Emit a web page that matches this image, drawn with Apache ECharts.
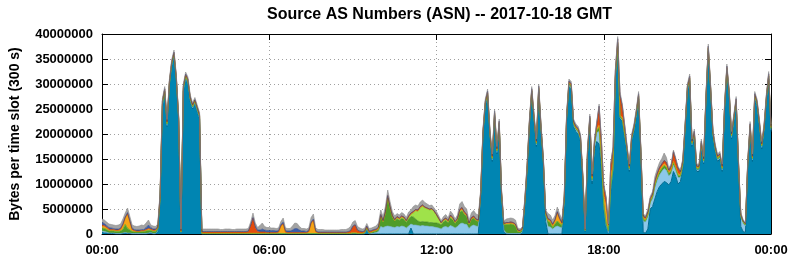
<!DOCTYPE html>
<html><head><meta charset="utf-8">
<script src="https://cdn.jsdelivr.net/npm/echarts@6/dist/echarts.min.js"></script>
<style>html,body{margin:0;padding:0;background:#fff}#c{width:792px;height:259px}</style>
</head><body><div id="c"></div>
<script>
// ---- chart texts ----
const titleText = 'Source AS Numbers (ASN) -- 2017-10-18 GMT';
const yAxisName = 'Bytes per time slot (300 s)';
const slotSeconds = 300;          // one data point per 5-minute slot, 289 slots
const seriesNames = ['ASN A', 'ASN B', 'ASN C', 'ASN D', 'ASN E', 'ASN F', 'ASN G', 'Other'];

// ---- values in millions of bytes per slot, one row per hour (12 slots) ----
const teal = [
0.3,0.2,0.2,0.1,0.1,0.1,0,0,0,0.1,0.2,0.1,
0.1,0,0,0,0,0,0,0,0.1,0.2,0,0,
0.5,6.5,25.5,28,21.5,29.5,33.5,35.5,30.5,22.5,0.2,28.5,
31,30,26.5,25,26,24.5,23,0,0,0,0,0,
0,0,0,0,0,0,0,0,0,0,0,0,
0,0,0,0,0,0,0,0,0,0,0,0,
0,0,0,0,0,0,0,0,0,0,0,0,
0,0,0,0,0,0,0,0,0,0,0,0,
0,0,0,0,0,0,0,0,0,0,0,0,
0,0,0,0,0,0,1,0,0,0,0,0,
0,0,0,0,0,0,0,0,0,0,0,0,
0,1.2,0,0,0,0,0,0,0,0,0,0,
0,0,0,0,0,0,0,0,0,0,0,0,
0,0,0,0,0,0,0,7,19.5,25.5,27.5,19.5,
14.5,23.5,16,21.5,7.5,0.5,0,0,0,0,0,0,
0,0.3,5.5,12.5,21.5,28,22.5,17.5,28.5,20.5,14,2.5,
0,0,0,0,0,0,0,6,22.5,29.5,29,21.5,
20.5,20,18.5,10.5,0.5,15.5,22.5,10,16.5,18.5,18,13,
5,1.5,0.2,8.5,12.5,31,37.5,23,22.5,19.5,16.5,12.5,
18.5,20.5,23.5,27,15.5,0.3,0.2,1,5,5.5,7,8.5,
9.5,10,10.5,10.3,9.8,10.5,12.5,11.5,10,10.5,13,20.5,
28.5,30.5,17.5,19.5,12.5,12.5,17.5,14,26.5,36.5,28.5,19.5,
16.5,14.5,15,12.5,24.5,32.5,27.5,19,22.5,26,13.5,1.5,
0.5,0.3,13.5,21,14.5,27,25.5,21.5,17,20.5,26.5,31,
20.5];
const lightBlue = [
0.3,0.3,0.2,0.1,0.1,0.1,0.1,0.1,0.1,0.1,0.1,0.1,
0.1,0.1,0.1,0.1,0.1,0.1,0.1,0.1,0.1,0.1,0.1,0.1,
0.1,0.2,0.2,0.2,0.2,0.2,0.2,0.2,0.2,0.2,0.1,0.2,
0.2,0.2,0.2,0.2,0.2,0.2,0.2,0,0,0,0,0,
0,0,0,0,0,0,0,0,0,0,0,0,
0,0,0,0,0,0,0,0,0,0,0,0,
0,0,0,0,0,0,0,0,0,0,0,0,
0,0,0,0,0,0,0,0,0,0,0,0,
0,0,0,0,0,0,0,0,0,0,0,0,
0,0,0,0,0,0,0,0,0.1,0.2,0.3,0.5,
1.5,1.3,1.5,1.6,1.5,1.4,1.3,1.5,1.4,1.6,1.5,1.2,
1.6,0.8,1.8,1.8,1.7,1.6,1.7,1.6,1.6,1.5,1.5,1.4,
1.3,1.2,1.0,1.4,1.5,1.3,1.7,1.5,1.2,1.5,2.0,2.2,
2.0,1.9,1.1,1.6,1.8,1.6,1.5,0.5,0.3,0.3,0.3,0.3,
0.3,0.3,0.3,0.3,0.3,0.3,0.2,0.1,0.1,0.1,0.1,0.1,
0.1,0.2,0.3,0.3,0.3,0.3,0.3,0.3,0.3,0.3,0.3,1.0,
1.5,1.4,1.0,1.4,1.6,1.4,1.2,0.5,0.3,0.3,0.3,0.3,
0.3,0.3,0.3,0.3,0.1,0.3,0.3,0.6,1.0,1.8,2.5,1.5,
0.5,0.2,0,0.5,0.3,0.2,0.2,0.2,0.2,0.2,0.3,0.3,
0.3,0.3,0.3,0.3,0.3,2.2,2.2,2.4,1.2,1.5,2.2,2.2,
2.3,2.5,2.6,2.4,1.8,1.6,1.3,1.2,1.3,0.8,0.6,0.3,
0.3,0.3,0.3,0.3,0.3,0.3,0.3,0.3,0.3,0.3,0.3,0.3,
0.3,0.3,0.3,0.3,0.3,0.3,0.3,0.3,0.3,0.3,0.3,1.8,
1.6,1.3,0.3,0.3,0.3,0.3,0.3,0.3,0.3,0.3,0.3,0.3,
0.3];
const darkGreen = [
0.6,0.6,0.5,0.4,0.4,0.4,0.4,0.4,0.5,0.7,1.6,0.9,
0.6,0.4,0.3,0.3,0.3,0.4,0.4,0.5,0.5,0.4,0.4,0.4,
0.4,0.3,0.3,0.3,0.3,0.3,0.3,0.3,0.3,0.3,0.1,0.3,
0.3,0.3,0.3,0.3,0.3,0.3,0.3,0.1,0.1,0.1,0.1,0.1,
0.1,0.1,0.1,0.1,0.1,0.1,0.1,0.1,0.1,0.1,0.1,0.1,
0.1,0.1,0.1,0.1,0.1,0.1,0.1,0.1,0.1,0.1,0.1,0.1,
0.1,0.1,0.1,0.1,0.1,0.1,0.1,0.1,0.1,0.1,0.1,0.1,
0.1,0.1,0.1,0.1,0.1,0.1,0.1,0.1,0.1,0.1,0.1,0.1,
0.1,0.1,0.1,0.1,0.1,0.1,0.1,0.1,0.1,0.1,0.1,0.1,
0.2,0.2,0.1,0.1,0.1,0.2,0.2,0.2,0.2,0.3,0.3,0.4,
2.0,1.1,2.6,5.6,3.6,2.0,1.3,1.5,1.3,1.5,1.4,1.1,
1.4,1.5,1.6,1.2,0.9,0.8,0.8,0.8,0.8,0.8,0.8,0.8,
0.9,0.9,0.8,1.0,1.2,0.9,1.5,1.3,0.9,1.2,2.3,2.4,
1.9,1.6,0.8,1.3,1.4,1.1,1.0,0.3,0.3,0.3,0.3,0.3,
0.3,0.3,0.3,0.3,0.3,1.0,1.7,1.8,1.9,1.8,1.5,0.4,
0.3,0.4,0.3,0.3,0.3,0.3,0.3,0.3,0.3,0.3,0.3,0.3,
1.0,0.9,0.3,0.6,1.0,0.7,0.5,0.4,0.3,0.3,0.3,0.3,
0.3,0.3,0.3,0.3,0.1,0.3,0.3,0.3,0.4,0.5,0.8,0.5,
0.4,0.5,0.5,0.5,0.4,0.3,0.4,0.3,0.3,0.3,0.3,0.3,
0.3,0.3,0.3,0.3,0.3,0.4,0.3,0.4,0.3,0.4,0.5,0.5,
0.6,0.6,0.6,0.6,0.5,0.5,0.5,0.4,0.4,0.3,0.3,0.3,
0.3,0.3,0.3,0.3,0.3,0.3,0.3,0.3,0.3,0.3,0.3,0.3,
0.3,0.3,0.3,0.3,0.3,0.3,0.3,0.3,0.3,0.3,0.3,0.3,
0.3,0.3,0.3,0.3,0.3,0.3,0.3,0.3,0.3,0.3,0.3,0.3,
0.3];
const lightGreen = [
0,0,0,0,0,0,0,0,0,0,0,0,
0,0,0,0,0,0,0,0,0,0,0,0,
0,0,0,0,0,0,0,0,0,0,0,0,
0,0,0,0,0,0,0,0,0,0,0,0,
0,0,0,0,0,0,0,0,0,0,0,0,
0,0,0,0,0,0,0,0,0,0,0,0,
0,0,0,0,0,0,0,0,0,0,0,0,
0,0,0,0,0,0,0,0,0,0,0,0,
0,0,0,0,0,0,0,0,0,0,0,0,
0,0,0,0,0,0,0,0,0,0,0,0,
0,0,0,0,0,0,0,0.2,0.2,0.2,0.2,0.2,
0.3,0.4,0.8,1.6,1.9,2.8,3.0,2.8,2.6,2.5,2.6,2.2,
1.5,0.8,0.3,0.2,0.2,0.2,0.2,0.2,0.1,0.1,0.2,0.2,
0.1,0.1,0,0,0,0,0,0,0,0,0,0,
0,0,0,0,0,0,0,0,0,0,0,0,
0,0,0,0,0,0,0,0,0,0,0,0,
0,0,0,0,0,0,0,0,0,0,0,0,
0,0,0,0,0,0,0,0,0,0,0,0,
0,0,0,0,0,0,0,0,0,0,0,0,
0,0,0,0,0,0,0,0,0,0,0,0,
0,0,0,0,0,0,0,0,0,0,0,0,
0,0,0,0,0,0,0,0,0,0,0,0,
0,0,0,0,0,0,0,0,0,0,0,0,
0,0,0,0,0,0,0,0,0,0,0,0,
0];
const orange = [
0.4,0.4,0.3,0.2,0.2,0.2,0.2,0.2,0.3,0.8,1.3,2.8,
1.6,0.3,0.2,0.1,0.1,0.1,0.1,0.2,0.3,0.2,0.2,0.2,
0.2,0.6,0.5,0.4,0.3,0.3,0.3,0.2,0.2,0.2,0.1,0.4,
0.3,0.3,0.2,0.2,0.2,0.2,0.2,0.1,0.1,0.1,0.1,0.1,
0.1,0.1,0.1,0.1,0.1,0.1,0.1,0.1,0.1,0.1,0.1,0.1,
0.1,0.1,0.1,0.1,0.1,0.1,0.1,0.1,0.1,0.1,0.1,0.1,
0.1,0.1,0.1,0.1,0.2,1.4,1.9,0.2,0.1,0.1,0.1,0.1,
0.1,0.1,0.1,0.1,0.1,0.3,2.0,2.6,0.3,0.1,0.1,0.1,
0.1,0.1,0.1,0.1,0.1,0.1,0.1,0.1,0.1,0.1,0.1,0.1,
0.1,0.1,0.1,0.1,0.1,0.1,0.1,0.1,0.1,0.1,0.1,0.1,
0.1,0.1,0.1,0.1,0.1,0.1,0.1,0.1,0.1,0.1,0.1,0.1,
0.1,0.1,0.1,0.1,0.1,0.1,0.1,0.1,0.1,0.1,0.1,0.1,
0.1,0.1,0.1,0.1,0.1,0.1,0.1,0.1,0.1,0.1,0.1,0.2,
0.1,0.1,0.1,0.1,0.1,0.1,0.1,0.2,0.2,0.2,0.2,0.2,
0.2,0.2,0.2,0.2,0.2,0.2,0.2,0.2,0.2,0.2,0.2,0.1,
0.1,0.1,0.3,0.3,0.2,0.2,0.2,0.2,0.2,0.2,0.2,0.3,
0.3,0.3,0.4,0.6,1.5,0.8,0.3,0.4,0.2,0.2,0.2,0.2,
0.2,0.2,0.2,0.3,0.1,0.3,0.2,0.3,0.3,0.3,0.5,1.0,
1.8,3.5,1.0,1.8,1.0,0.3,0.3,0.3,0.3,0.3,0.2,0.2,
0.2,0.2,0.2,0.2,0.2,0.3,0.3,0.3,0.3,0.3,0.4,0.4,
0.4,0.4,0.4,0.4,0.3,0.3,0.3,0.3,0.4,0.3,0.3,0.2,
0.2,0.2,0.2,0.2,0.2,0.2,0.2,0.2,0.2,0.2,0.2,0.2,
0.2,0.2,0.2,0.2,0.2,0.2,0.2,0.2,0.2,0.2,0.2,0.2,
0.1,0.1,0.2,0.2,0.2,0.2,0.2,0.2,0.2,0.2,0.2,0.2,
0.2];
const red = [
0.2,0.2,0.2,0.2,0.1,0.1,0.1,0.1,0.1,0.2,0.1,0.2,
0.1,0.1,0.1,0.1,0.1,0.1,0.1,0.1,0.1,0.1,0.1,0.1,
0.1,0.1,0.1,0.1,0.1,0.1,0.1,0.1,0.1,0.1,0.1,0.1,
0.1,0.1,0.1,0.1,0.1,0.1,0.1,0.2,0.2,0.2,0.2,0.2,
0.2,0.2,0.2,0.2,0.2,0.2,0.2,0.2,0.2,0.2,0.2,0.2,
0.2,0.2,0.2,0.3,1.5,3.0,1.0,0.3,0.2,0.2,0.2,0.1,
0.1,0.1,0.1,0.1,0.1,0.1,0.1,0.1,0.1,0.1,0.1,0.1,
0.1,0.1,0.1,0.1,0.1,0.1,0.1,0.1,0.1,0.1,0.1,0.1,
0.1,0.1,0.1,0.1,0.1,0.1,0.1,0.1,0.1,0.1,0.2,0.4,
1.2,1.5,0.5,0.3,0.2,0.2,0.2,0.2,0.2,0.2,0.2,0.3,
0.3,0.2,0.3,0.4,0.3,0.2,0.2,0.2,0.2,0.2,0.2,0.1,
0.2,0.2,0.2,0.2,0.2,0.2,0.2,0.1,0.1,0.1,0.1,0.1,
0.1,0.1,0.1,0.2,0.2,0.2,0.3,0.2,0.2,0.2,0.3,0.3,
0.3,0.3,0.2,0.3,0.3,0.2,0.2,0.2,0.2,0.2,0.2,0.2,
0.2,0.2,0.2,0.2,0.2,0.1,0.2,0.2,0.2,0.2,0.2,0.2,
0.2,0.2,0.2,0.2,0.2,0.2,0.2,0.2,0.2,0.2,0.2,0.2,
0.2,0.2,0.2,0.2,0.3,0.2,0.2,0.2,0.2,0.2,0.2,0.2,
0.2,0.2,0.2,0.2,0.1,0.2,0.2,0.3,0.4,1.0,3.7,2.5,
2.0,1.5,0.2,2.5,3.0,0.8,0.6,4.0,2.2,1.3,0.2,0.2,
0.2,0.2,0.2,0.2,0.2,0.4,0.3,0.4,0.3,0.3,0.5,0.5,
0.5,0.5,0.6,0.6,0.4,0.7,1.9,1.5,1.1,0.6,0.4,0.2,
0.2,0.2,0.2,0.2,0.2,0.2,0.2,0.2,0.2,0.2,0.2,0.2,
0.2,0.2,0.2,0.2,0.2,0.2,0.2,0.2,0.2,0.2,0.2,0.2,
0.1,0.1,0.2,0.2,0.2,0.2,0.2,0.2,0.2,0.2,0.2,0.2,
0.2];
const darkBlue = [
0.5,0.4,0.3,0.3,0.3,0.2,0.2,0.2,0.2,0.2,0.1,0.2,
0.2,0.2,0.2,0.2,0.2,0.2,0.2,0.4,0.7,0.3,0.2,0.2,
0.2,0.1,0.1,0.1,0.1,0.1,0.1,0.1,0.1,0.1,0.1,0.1,
0.1,0.1,0.1,0.1,0.1,0.1,0.1,0.1,0.1,0.1,0.1,0.1,
0.1,0.1,0.1,0.1,0.1,0.1,0.1,0.1,0.1,0.1,0.1,0.1,
0.1,0.1,0.1,0.1,0.1,0.1,0.4,0.3,0.4,0.6,0.4,0.4,
0.4,0.4,0.4,0.3,0.3,0.3,0.3,0.3,0.3,0.3,0.5,0.8,
0.8,0.5,0.3,0.3,0.2,0.2,0.2,0.2,0.2,0.1,0.1,0.1,
0.1,0.1,0.1,0.1,0.1,0.1,0.1,0.1,0.1,0.1,0.1,0.1,
0.1,0.1,0.1,0.1,0.1,0.1,0.1,0.1,0.1,0.1,0.1,0.1,
0,0,0,0,0,0,0,0,0,0,0,0,
0,0,0,0,0,0,0,0,0,0,0,0,
0,0,0,0,0,0,0,0,0,0,0,0,
0,0,0,0,0,0,0,0.1,0.1,0.1,0.1,0.1,
0.1,0.1,0.1,0.1,0.1,0,0,0,0,0,0,0,
0,0,0.1,0.1,0.1,0.1,0.1,0.1,0.1,0.1,0.1,0.1,
0.1,0.1,0.1,0.1,0.1,0.1,0.1,0.1,0.1,0.1,0.1,0.1,
0.1,0.1,0.1,0.1,0,0.1,0.1,0.1,0.1,0.1,0.1,0.1,
0,0,0,0,0,0.1,0.1,0.1,0.1,0.1,0.1,0.1,
0.1,0.1,0.1,0.1,0.1,0,0,0,0,0,0,0,
0,0,0,0,0,0,0,0,0,0,0,0.1,
0.1,0.1,0.1,0.1,0.1,0.1,0.1,0.1,0.1,0.1,0.1,0.1,
0.1,0.1,0.1,0.1,0.1,0.1,0.1,0.1,0.1,0.1,0.1,0,
0,0,0.1,0.1,0.1,0.1,0.1,0.1,0.1,0.1,0.1,0.1,
0.1];
const gray = [
0.7,0.7,0.7,0.7,0.7,0.7,0.7,0.8,0.8,0.9,0.8,0.9,
0.8,0.7,0.7,0.7,0.8,0.9,0.8,0.9,1.0,0.5,0.6,0.5,
0.5,0.4,0.4,0.4,0.4,0.4,0.4,0.4,0.4,0.4,0.3,0.4,
0.4,0.4,0.4,0.4,0.4,0.4,0.4,0.5,0.5,0.5,0.5,0.5,
0.5,0.5,0.5,0.4,0.4,0.5,0.5,0.5,0.4,0.4,0.5,0.5,
0.5,0.5,0.5,0.5,0.6,0.9,0.6,0.5,0.9,1.2,0.7,0.6,
0.6,0.5,0.5,0.5,0.5,0.6,0.8,0.5,0.5,0.5,0.8,1.1,
1.0,0.7,0.5,0.5,0.5,0.5,0.9,1.0,0.5,0.5,0.5,0.5,
0.4,0.4,0.4,0.4,0.4,0.4,0.4,0.5,0.5,0.5,0.6,0.8,
0.8,0.8,0.7,0.6,0.5,0.5,0.5,0.5,0.5,0.5,0.6,0.8,
0.9,0.8,1.0,1.1,1.0,0.8,0.7,0.6,0.6,0.7,0.6,0.6,
0.8,0.6,1.0,0.9,0.8,0.9,1.0,0.9,0.8,0.7,0.7,0.6,
0.6,0.5,0.4,0.6,0.7,0.5,0.8,0.7,0.5,0.7,1.1,1.2,
1.1,1.0,0.5,0.9,1.1,1.0,1.0,0.4,0.4,0.4,0.4,0.4,
0.4,0.4,0.4,0.4,0.4,0.4,0.7,0.8,0.8,0.8,0.8,0.4,
0.3,0.3,0.4,0.4,0.4,0.4,0.4,0.4,0.4,0.4,0.4,0.4,
1.0,0.9,0.8,0.8,0.9,0.8,0.7,0.4,0.4,0.4,0.4,0.4,
0.4,0.4,0.4,0.3,0.1,0.4,0.4,0.4,0.3,0.3,0.4,0.4,
0.3,0.3,0.1,0.2,0.3,0.3,0.4,0.6,0.4,0.3,0.4,0.4,
0.4,0.4,0.4,0.4,0.4,0.4,0.4,0.5,0.4,0.5,0.9,0.9,
1.0,1.1,1.5,1.0,0.4,0.4,0.3,0.3,0.3,0.3,0.4,0.4,
0.4,0.4,0.4,0.4,0.4,0.4,0.4,0.4,0.4,0.4,0.4,0.4,
0.4,0.4,0.4,0.4,0.4,0.4,0.4,0.4,0.4,0.4,0.4,0.3,
0.3,0.2,0.4,0.4,0.4,0.4,0.4,0.4,0.4,0.4,0.4,0.4,
0.4];

const layers = [teal, lightBlue, darkGreen, lightGreen, orange, red, darkBlue, gray];
const fills  = ['#0085b2', '#8cc8ea', '#4f9c29', '#9fe24a', '#f5a516', '#e44c0c', '#3a5ca8', '#a3a3a3'];
const edges  = ['#006b90', '#6eaed2', '#3d7f1e', '#80c530', '#d88a00', '#c23a00', '#2a4488', '#8c8c8c'];

// time-slot categories (HH:MM, wrapping at midnight)
const slotsPer6h = 6 * 3600 / slotSeconds;           // 72
const categories = teal.map((_, i) => {
  const m = Math.round(i * slotSeconds / 60) % 1440;
  return String(Math.floor(m / 60)).padStart(2, '0') + ':' + String(m % 60).padStart(2, '0');
});

const FONT = '"Liberation Sans", Arial, Helvetica, sans-serif';
const chart = echarts.init(document.getElementById('c'), null, {renderer: 'canvas'});
const lblStyle = {color: '#000', fontFamily: FONT, fontWeight: 'bold', fontSize: 13};
const dottedCat = {show: true, interval: slotsPer6h - 1, lineStyle: {color: '#a0a0a0', width: 1, type: [1, 3]}};
const dotted = {show: true, lineStyle: {color: '#a0a0a0', width: 1, type: [1, 3]}};
const blackLine = {show: true, onZero: false, lineStyle: {color: '#000', width: 1}};
const tickIn = {show: true, inside: true, length: 6, lineStyle: {color: '#000', width: 1}};
const tickInCat = Object.assign({interval: slotsPer6h - 1, alignWithLabel: true}, tickIn);

const option = {
  animation: false,
  backgroundColor: '#fff',
  title: {
    text: titleText, left: 262, top: 2,
    textStyle: {color: '#000', fontFamily: FONT, fontWeight: 'bold', fontSize: 16}
  },
  grid: {left: 92, top: 34, width: 679, height: 200, containLabel: false},
  xAxis: [
    {type: 'category', data: categories, boundaryGap: false, position: 'bottom',
     axisLine: blackLine, axisTick: tickInCat,
     axisLabel: Object.assign({margin: 10, interval: slotsPer6h - 1}, lblStyle),
     splitLine: dottedCat},
    {type: 'category', data: categories, boundaryGap: false, position: 'top',
     axisLine: blackLine, axisTick: tickInCat, axisLabel: {show: false}, splitLine: {show: false}}
  ],
  yAxis: [
    {type: 'value', min: 0, max: 40000000, interval: 5000000, position: 'left',
     name: yAxisName, nameLocation: 'middle', nameGap: 80, nameRotate: 90,
     nameTextStyle: {color: '#000', fontFamily: FONT, fontWeight: 'bold', fontSize: 14},
     axisLine: blackLine, axisTick: tickIn,
     axisLabel: Object.assign({margin: 9, formatter: v => String(v)}, lblStyle),
     splitLine: dotted},
    {type: 'value', min: 0, max: 40000000, interval: 5000000, position: 'right',
     axisLine: blackLine, axisTick: tickIn, axisLabel: {show: false}, splitLine: {show: false}}
  ],
  series: layers.map((arr, k) => ({
    name: seriesNames[k],
    type: 'line',
    stack: 'total',
    xAxisIndex: 0, yAxisIndex: 0,
    symbol: 'none',
    smooth: false,
    data: arr.map(v => v * 1e6),
    lineStyle: {color: edges[k], width: k === 0 ? 1 : 0.6},
    areaStyle: {color: fills[k], opacity: 1},
    emphasis: {disabled: true}
  }))
};
chart.setOption(option);
</script></body></html>
